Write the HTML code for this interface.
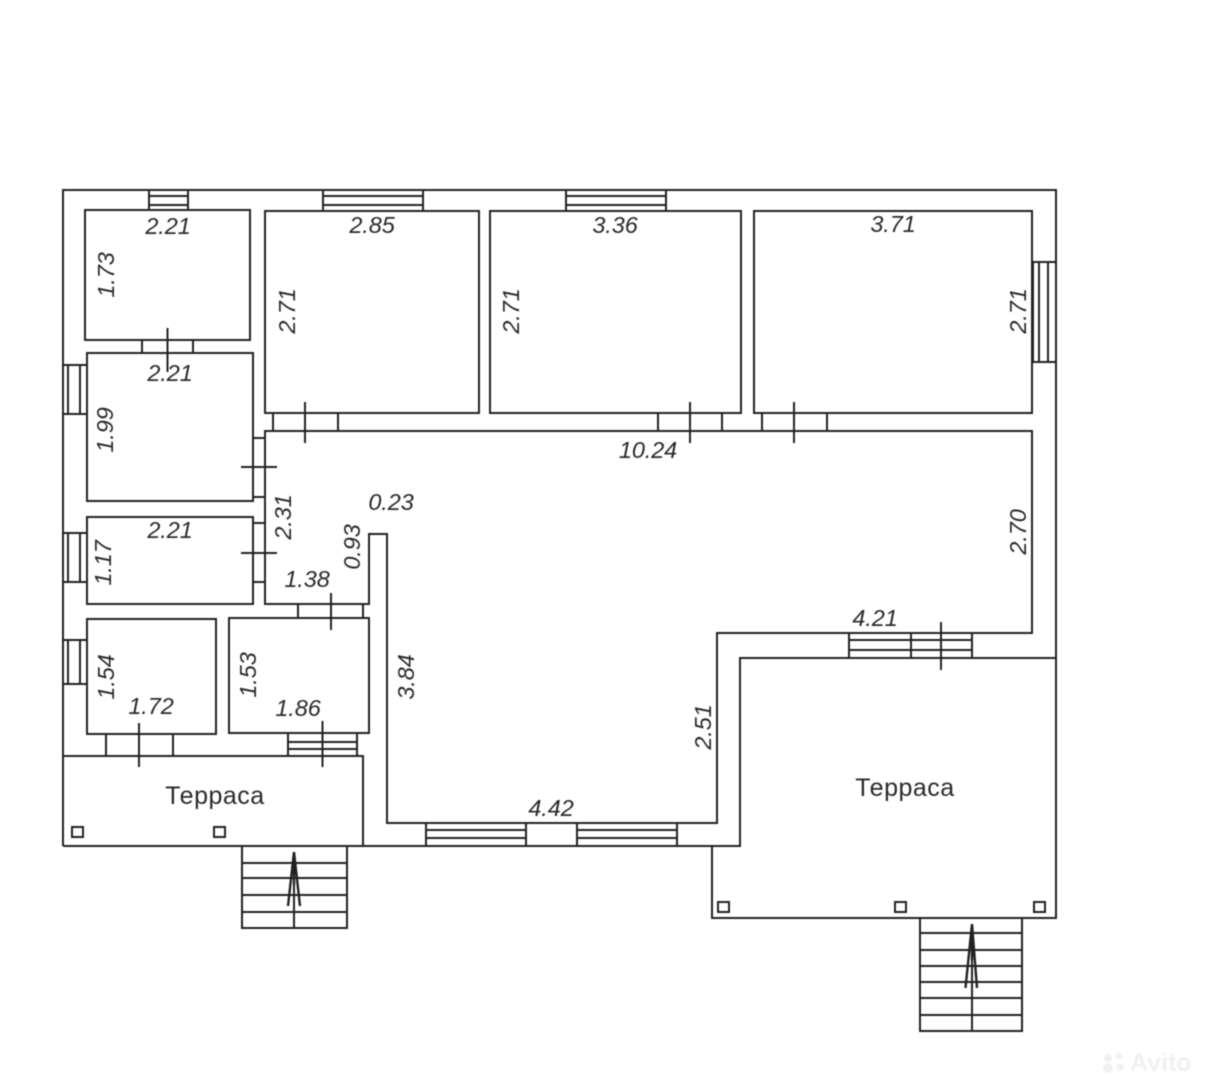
<!DOCTYPE html>
<html lang="ru">
<head>
<meta charset="utf-8">
<title>Floor plan</title>
<style>
html,body{margin:0;padding:0;background:#fff;width:1206px;height:1075px;overflow:hidden}
svg{display:block;filter:blur(.4px)}
.l{fill:none;stroke:#222;stroke-width:2}
.d{font-family:"Liberation Sans",sans-serif;font-style:italic;font-size:23.5px;letter-spacing:-.1px;fill:#2a2a2a;text-anchor:middle;dominant-baseline:central}
.n{font-family:"Liberation Sans","Noto Sans CJK SC",sans-serif;font-size:25px;letter-spacing:.5px;fill:#2a2a2a;text-anchor:middle;dominant-baseline:central}
.w{font-family:"Liberation Sans",sans-serif;font-size:25px;font-weight:bold;fill:#f1f1f1;text-anchor:start;dominant-baseline:central}
</style>
</head>
<body>
<svg width="1206" height="1075" viewBox="0 0 1206 1075" xmlns="http://www.w3.org/2000/svg">
<rect width="1206" height="1075" fill="#fff"/>
<g class="l">
<!-- outer -->
<path d="M63 846V190H1056V918H712V846H63"/>
<path d="M1056 658H740V846H712"/>
<!-- rooms -->
<rect x="85" y="210" width="165" height="130"/>
<rect x="265" y="211" width="214" height="202"/>
<rect x="490" y="211" width="251" height="202"/>
<rect x="754" y="211" width="278" height="202"/>
<rect x="87" y="353" width="166" height="148"/>
<rect x="87" y="517" width="166" height="87"/>
<rect x="87" y="619" width="129" height="115"/>
<rect x="229" y="618" width="140" height="115"/>
<!-- main room -->
<path d="M265 431H1032V633H717V823H387V534H369V604H265Z"/>
<!-- left terrace -->
<path d="M63 756H363V846"/>
<!-- top windows -->
<path d="M149 190V210H188V190M149 196H188M149 205H188"/>
<path d="M323 190V211H423V190M323 196H423M323 205H423"/>
<path d="M566 190V211H666V190M566 196H666M566 205H666"/>
<!-- right window -->
<path d="M1033 262H1056M1033 362H1056M1033 262V362M1039 262V362M1048 262V362"/>
<!-- left windows -->
<path d="M63 365H87M63 414H87M68 365V414M80 365V414"/>
<path d="M63 533H87M63 582H87M68 533V582M80 533V582"/>
<path d="M63 640H87M63 684H87M68 640V684M80 640V684"/>
<!-- doors -->
<path d="M142 340V353M193 340V353M167.500 328V372"/>
<path d="M273 413V431M338 413V431M305 402V443"/>
<path d="M658 413V431M722 413V431M690 402V443"/>
<path d="M762 413V431M827 413V431M794 402V443"/>
<path d="M253 438H265M253 497H265M241 467H277"/>
<path d="M253 523H265M253 582H265M241 553H277"/>
<path d="M298 604V618M363 604V618M331 593V630"/>
<path d="M106 734V756M173 734V756M139 723V767"/>
<!-- windows with tick -->
<path d="M288 733V756M357 733V756M288 742H357M288 749H357M322.500 721V767"/>
<path d="M849 633V658M972 633V658M849 640H972M849 650H972M911 633V658M941 622V670"/>
<!-- bottom windows -->
<path d="M426 823V846M526 823V846M426 830H526M426 838H526"/>
<path d="M577 823V846M677 823V846M577 830H677M577 838H677"/>
<!-- stairs left -->
<path d="M242 846V928H347V846M242 863H347M242 878H347M242 895H347M242 912H347M294 852V928"/>
<path d="M294 852L288 906M294 852L300 906M294 852V885" stroke-width="2.400"/>
<!-- stairs right -->
<path d="M920 918V1031H1022V918M920 933H1022M920 950H1022M920 966H1022M920 982H1022M920 998H1022M920 1015H1022M972 924V1031"/>
<path d="M972 924L965.500 988M972 924L977 988M972 924V960" stroke-width="2.400"/>
<!-- columns -->
<rect x="72" y="827" width="11" height="10"/>
<rect x="214" y="827" width="11" height="10"/>
<rect x="718" y="902" width="11" height="10"/>
<rect x="895" y="902" width="11" height="10"/>
<rect x="1034" y="902" width="11" height="10"/>
</g>
<!-- dimensions -->
<g class="d">
<text x="168" y="226">2.21</text>
<text x="372" y="225">2.85</text>
<text x="615" y="225">3.36</text>
<text x="893" y="224">3.71</text>
<text x="170" y="373">2.21</text>
<text x="648" y="450">10.24</text>
<text x="391" y="502">0.23</text>
<text x="170" y="530">2.21</text>
<text x="307" y="579">1.38</text>
<text x="151" y="706">1.72</text>
<text x="298" y="708">1.86</text>
<text x="875" y="618">4.21</text>
<text x="551" y="808">4.42</text>
<text transform="translate(106 275) rotate(-90)">1.73</text>
<text transform="translate(287 311) rotate(-90)">2.71</text>
<text transform="translate(511 311) rotate(-90)">2.71</text>
<text transform="translate(1018 311) rotate(-90)">2.71</text>
<text transform="translate(105 430) rotate(-90)">1.99</text>
<text transform="translate(283 517) rotate(-90)">2.31</text>
<text transform="translate(352 547) rotate(-90)">0.93</text>
<text transform="translate(103 563) rotate(-90)">1.17</text>
<text transform="translate(106 677) rotate(-90)">1.54</text>
<text transform="translate(248 675) rotate(-90)">1.53</text>
<text transform="translate(406 677) rotate(-90)">3.84</text>
<text transform="translate(703 727) rotate(-90)">2.51</text>
<text transform="translate(1018 532) rotate(-90)">2.70</text>
</g>
<text class="n" x="215" y="796">Терраса</text>
<text class="n" x="905" y="788">Терраса</text>
<!-- watermark -->
<g fill="#f1f1f1">
<circle cx="1108" cy="1058" r="4"/><circle cx="1119" cy="1056" r="3.500"/>
<circle cx="1108" cy="1068" r="5"/><circle cx="1120" cy="1067" r="3.500"/>
</g>
<text class="w" x="1130" y="1063">Avito</text>
</svg>
</body>
</html>
